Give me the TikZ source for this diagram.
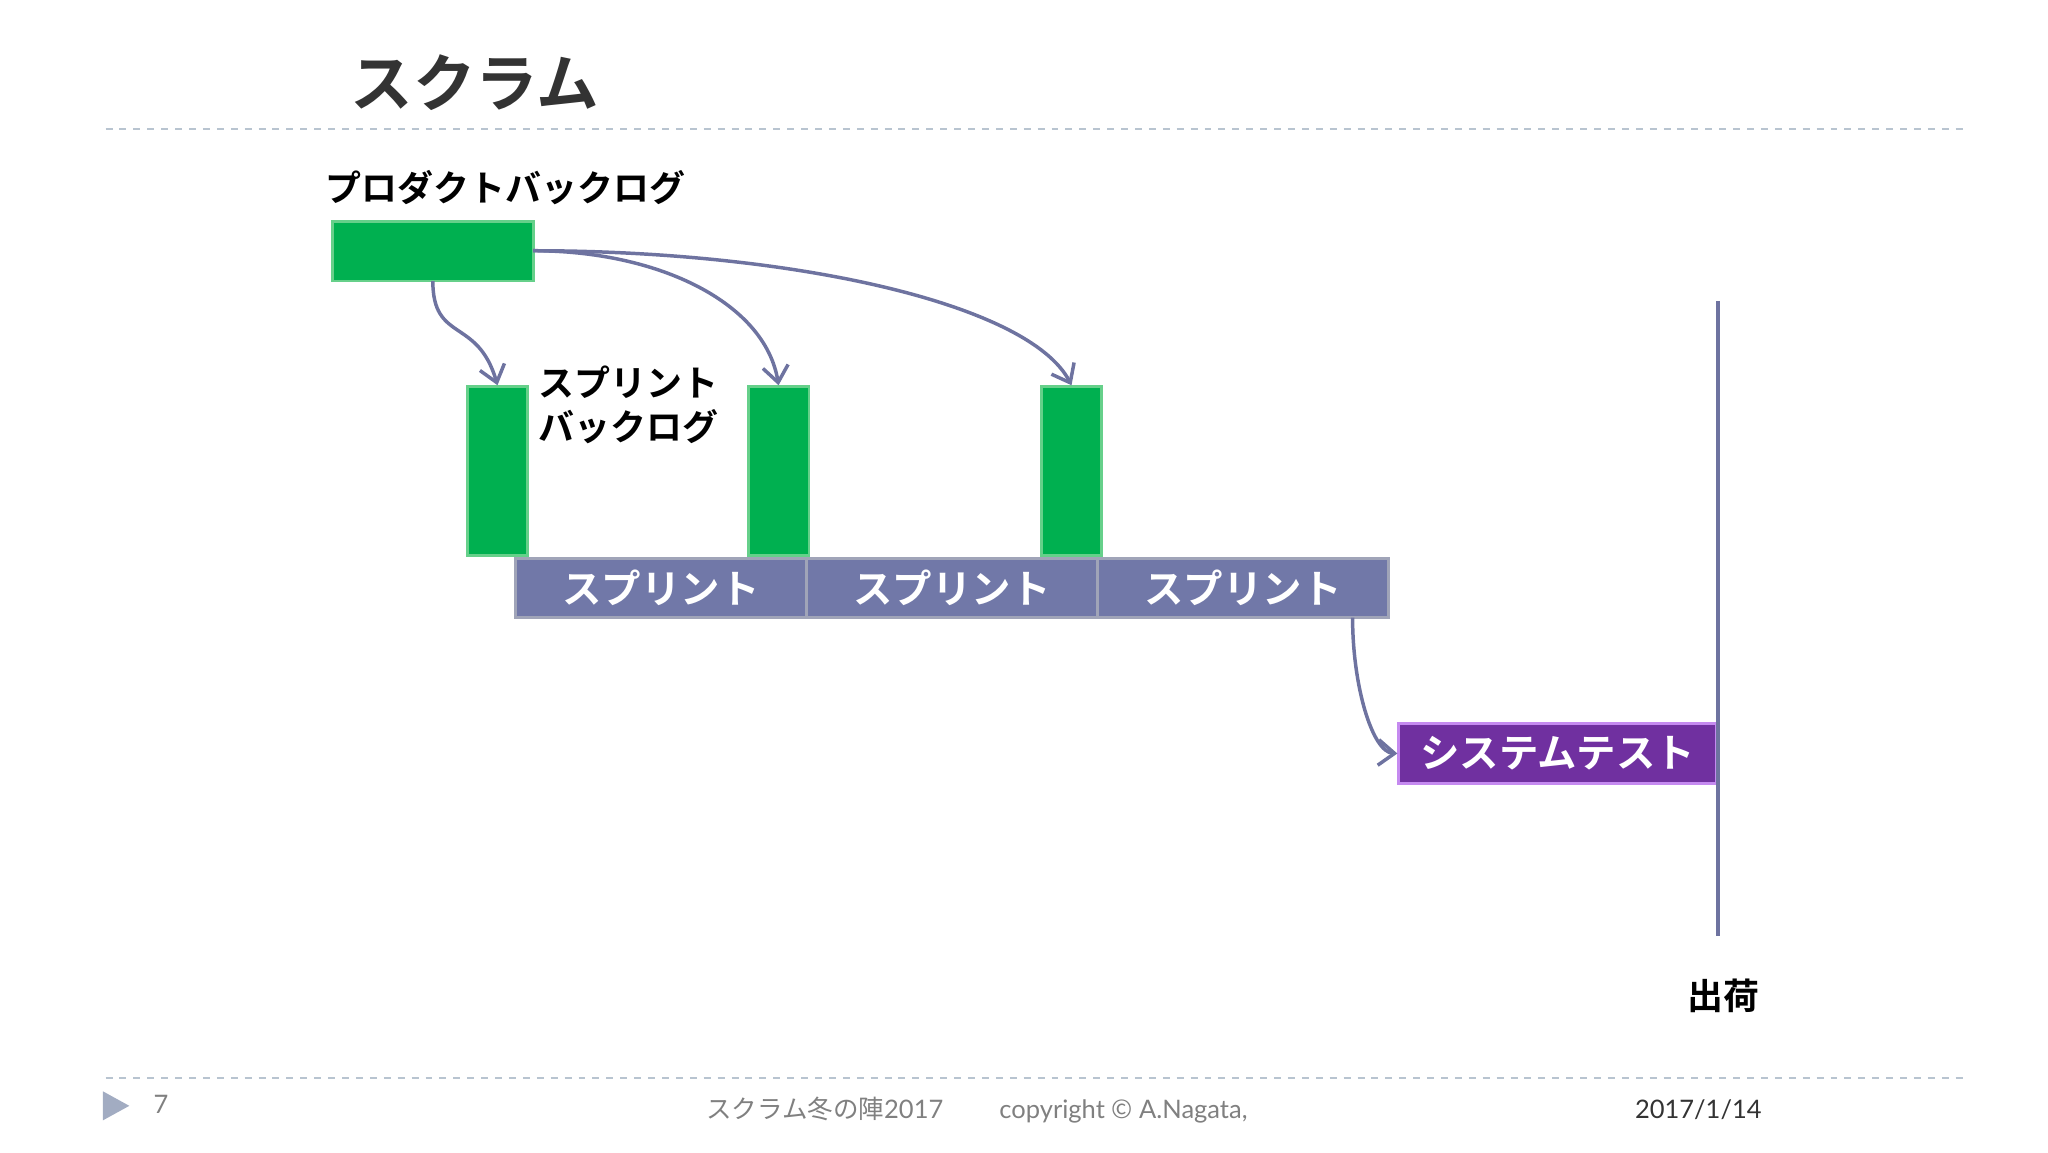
\documentclass[tikz,border=0pt]{standalone}
\usepackage{fontspec}
\usetikzlibrary{arrows.meta}
\newfontfamily\jp{Noto Sans CJK JP}
\newfontfamily\jpb{Noto Sans CJK JP Bold}
\setmainfont{Lato}
\definecolor{gr}{HTML}{00B050}
\definecolor{grb}{HTML}{66D08A}
\definecolor{sp}{HTML}{7178A8}
\definecolor{spb}{HTML}{A0A4B8}
\definecolor{pu}{HTML}{7030A0}
\definecolor{pub}{HTML}{C58AF0}
\definecolor{ar}{HTML}{6E73A0}
\definecolor{dl}{HTML}{B8C4D0}
\tikzset{
 gbox/.style={fill=gr,draw=grb,line width=1.2pt},
 sbox/.style={fill=sp,draw=spb,line width=1.2pt,text=white,font=\jpb\fontsize{17}{20}\selectfont},
 conn/.style={draw=ar,line width=1.5pt,-{Straight Barb[length=7pt,width=11pt]}},
 lbl/.style={font=\jpb\fontsize{15.5}{19}\selectfont,inner sep=0},
 foot/.style={text=gray,font=\fontsize{11}{13}\selectfont,inner sep=0}
}
\begin{document}
\begin{tikzpicture}[x=0.02cm,y=-0.02cm]
\useasboundingbox (0,0) rectangle (1552,873);
\node[font=\jpb\fontsize{27}{30}\selectfont,text=black!80,inner sep=0] (title) at (360,63) {スクラム};
\draw[dl,dashed,line width=0.8pt] (80,98) -- (1490,98);
\draw[dl,dashed,line width=0.8pt] (80,817) -- (1490,817);
\node[lbl] (pbl) at (383,142) {プロダクトバックログ};
\node[gbox,minimum width=152*0.02cm,minimum height=45*0.02cm,inner sep=0] (pb) at (328,190.5) {};
\foreach \n/\x in {a/377,b/590,c/812}
  \node[gbox,minimum width=46*0.02cm,minimum height=128*0.02cm,inner sep=0] (\n) at (\x,357) {};
\node[lbl,align=left,anchor=north west] (sbl) at (408,277) {スプリント\\バックログ};
\foreach \n/\x in {s1/501,s2/721.5,s3/942}
  \node[sbox,minimum width=220.5*0.02cm,minimum height=45*0.02cm,inner sep=0] (\n) at (\x,445.5) {スプリント};
\node[sbox,fill=pu,draw=pub,minimum width=241*0.02cm,minimum height=46*0.02cm,inner sep=0] (st) at (1180.5,571) {システムテスト};
\coordinate (v1) at (1302,228); \coordinate (v2) at (1302,709);
\draw[ar,line width=1.8pt] (v1) -- (v2);
\node[lbl] (ship) at (1306,755) {出荷};
\draw[conn] (328,213) .. controls (328,260) and (362,240) .. (a.north);
\draw[conn] (404,190) .. controls (500,190) and (580,230) .. (b.north);
\draw[conn] (404,190) .. controls (600,190) and (780,230) .. (c.north);
\draw[conn] (1025,468) .. controls (1025,520) and (1040,570) .. (st.west);
\fill[dl!70!ar] (78,827) -- (98,838) -- (78,849) -- cycle;
\node[foot] (pg) at (122,837) {7};
\node[foot,anchor=west] (ft) at (535,841) {{\jp スクラム冬の陣}2017\hspace{2.2em}copyright {\jp ©} A.Nagata,};
\node[foot,text=black!80] (dt) at (1287,841) {2017/1/14};
\end{tikzpicture}
\end{document}
